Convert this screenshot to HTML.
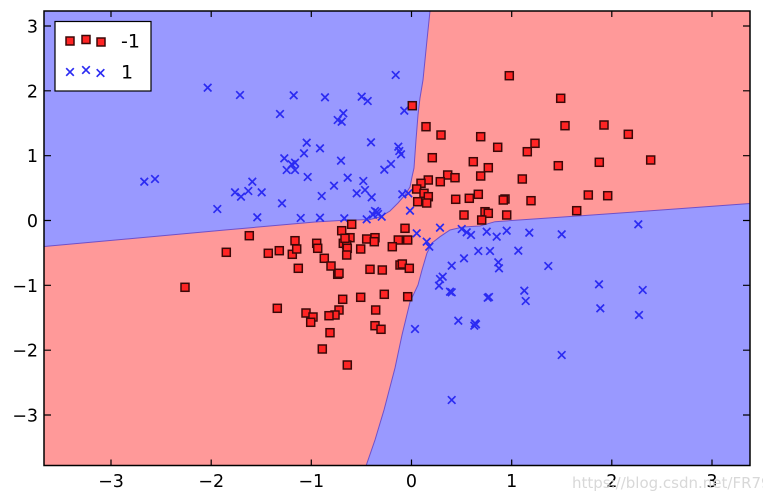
<!DOCTYPE html>
<html><head><meta charset="utf-8"><style>
html,body{margin:0;padding:0;background:#fff;}
svg{display:block;}
text{font-family:"DejaVu Sans","Liberation Sans",sans-serif;}
</style></head><body>
<svg width="763" height="500" viewBox="0 0 763 500" xmlns="http://www.w3.org/2000/svg">
<defs>
<g id="s"><rect x="-4" y="-4" width="8" height="8" fill="#ff2424" stroke="#3a0808" stroke-width="1.5"/></g>
<g id="x"><path d="M-3.8,-3.8L3.8,3.8M-3.8,3.8L3.8,-3.8" stroke="#2b2bf2" stroke-width="1.7" fill="none"/></g>
<clipPath id="c"><rect x="44" y="11" width="706" height="454.5"/></clipPath>
</defs>
<g clip-path="url(#c)">
<rect x="44" y="11" width="706" height="454.5" fill="#ff9999"/>
<path d="M44,11 L430,11 L427,40 L423,80 L420,98 L418,115 L416,140 L414,168 L412,177 L410,187 L405,195 L398,203 L390,211 L380,217 L370,219.5 L340,220.5 L315,222 L225,230 L135,238.3 L44,246.5 Z" fill="#9999ff" stroke="#7050c8" stroke-width="1"/>
<path d="M750,203.5 L675,209 L585,215.5 L495,221.7 L480,226 L463,227 L450,230 L440,236.7 L432,243 L427,253 L422,270 L418,285 L410,302 L402,335 L395,368 L384,410 L375,440 L366,466 L750,466 Z" fill="#9999ff" stroke="#7050c8" stroke-width="1"/>
</g>
<!-- blue x markers -->
<g>
<use href="#x" x="207.7" y="87.7"/><use href="#x" x="240" y="95"/><use href="#x" x="293.7" y="95.3"/><use href="#x" x="280" y="114"/>
<use href="#x" x="306.7" y="142.7"/><use href="#x" x="304" y="153.3"/><use href="#x" x="284.3" y="158.3"/><use href="#x" x="291.7" y="164.3"/>
<use href="#x" x="295" y="162.7"/><use href="#x" x="286.7" y="170"/><use href="#x" x="295" y="170"/><use href="#x" x="307.7" y="177"/>
<use href="#x" x="144.3" y="181.7"/><use href="#x" x="155" y="179"/><use href="#x" x="252.3" y="181.7"/><use href="#x" x="235" y="192.3"/>
<use href="#x" x="241" y="196.7"/><use href="#x" x="248.3" y="191"/><use href="#x" x="261.7" y="192.3"/><use href="#x" x="282" y="203.3"/>
<use href="#x" x="217.3" y="209"/><use href="#x" x="257.3" y="217.3"/><use href="#x" x="300.7" y="218"/>
<use href="#x" x="395.7" y="75"/><use href="#x" x="325" y="97.3"/><use href="#x" x="361.7" y="96.7"/><use href="#x" x="367.7" y="101"/>
<use href="#x" x="404.3" y="110.7"/><use href="#x" x="343.3" y="113.3"/><use href="#x" x="337.7" y="120"/><use href="#x" x="341.7" y="121.7"/>
<use href="#x" x="371" y="142.3"/><use href="#x" x="320" y="148.3"/><use href="#x" x="398.3" y="146.7"/><use href="#x" x="399.3" y="151"/>
<use href="#x" x="401" y="154.3"/><use href="#x" x="341" y="160.7"/><use href="#x" x="391" y="164"/><use href="#x" x="384.3" y="169.7"/>
<use href="#x" x="347.7" y="177.7"/><use href="#x" x="363.3" y="181"/><use href="#x" x="334" y="185.7"/><use href="#x" x="365" y="190"/>
<use href="#x" x="356.7" y="193.3"/><use href="#x" x="371.7" y="197.3"/><use href="#x" x="321.7" y="196"/><use href="#x" x="402.3" y="194.3"/>
<use href="#x" x="408.3" y="193.3"/><use href="#x" x="410" y="210.7"/><use href="#x" x="375" y="211"/><use href="#x" x="378" y="214"/>
<use href="#x" x="373" y="214.7"/><use href="#x" x="381.7" y="216.7"/><use href="#x" x="377" y="212"/><use href="#x" x="366.7" y="219.3"/>
<use href="#x" x="320" y="217.7"/><use href="#x" x="344.3" y="218.3"/><use href="#x" x="440" y="227.7"/><use href="#x" x="461.7" y="229"/>
<use href="#x" x="466.7" y="232.3"/><use href="#x" x="471" y="235"/><use href="#x" x="416.7" y="233.3"/><use href="#x" x="486.7" y="231.7"/>
<use href="#x" x="506.7" y="230.7"/><use href="#x" x="529.3" y="232.7"/><use href="#x" x="561.7" y="234.3"/><use href="#x" x="638.3" y="224.3"/>
<use href="#x" x="496.7" y="236.7"/><use href="#x" x="518.3" y="250.7"/><use href="#x" x="498.3" y="262.3"/><use href="#x" x="499" y="268.3"/>
<use href="#x" x="548.3" y="266"/><use href="#x" x="524.3" y="290.7"/><use href="#x" x="525.7" y="301"/><use href="#x" x="599" y="284.3"/>
<use href="#x" x="642.7" y="290"/><use href="#x" x="600.3" y="308.3"/><use href="#x" x="639" y="315"/><use href="#x" x="561.7" y="355"/>
<use href="#x" x="426.7" y="241.7"/><use href="#x" x="429.3" y="246.7"/><use href="#x" x="478.3" y="251"/><use href="#x" x="490" y="251"/>
<use href="#x" x="464" y="258.3"/><use href="#x" x="451.7" y="265.7"/><use href="#x" x="442.7" y="276.7"/><use href="#x" x="440" y="279"/>
<use href="#x" x="439" y="285.7"/><use href="#x" x="450" y="291.7"/><use href="#x" x="451.7" y="292.3"/><use href="#x" x="487.7" y="297.7"/>
<use href="#x" x="489" y="297"/><use href="#x" x="415" y="329"/><use href="#x" x="458.3" y="320.7"/><use href="#x" x="475" y="323.3"/>
<use href="#x" x="474.3" y="325.7"/><use href="#x" x="476" y="324.3"/><use href="#x" x="451.7" y="400"/>
</g>
<!-- red squares -->
<g>
<use href="#s" x="412.3" y="105.7"/><use href="#s" x="426" y="126.7"/><use href="#s" x="441" y="135"/><use href="#s" x="480.7" y="136.7"/>
<use href="#s" x="497.7" y="147.3"/><use href="#s" x="432.3" y="157.7"/><use href="#s" x="473.3" y="161.7"/><use href="#s" x="488.3" y="167.7"/>
<use href="#s" x="480.7" y="176"/><use href="#s" x="447.7" y="175"/><use href="#s" x="455" y="177.7"/><use href="#s" x="440.3" y="181.7"/>
<use href="#s" x="428.3" y="180"/><use href="#s" x="421" y="183.3"/><use href="#s" x="416.7" y="189"/><use href="#s" x="424" y="193.3"/>
<use href="#s" x="428.3" y="196.7"/><use href="#s" x="417.7" y="201.7"/><use href="#s" x="426.7" y="203"/><use href="#s" x="455.7" y="199.3"/>
<use href="#s" x="469.3" y="198.3"/><use href="#s" x="478.3" y="194.3"/><use href="#s" x="464" y="215"/><use href="#s" x="485" y="211.7"/>
<use href="#s" x="488.3" y="213.3"/><use href="#s" x="481.7" y="220"/><use href="#s" x="509.3" y="75.7"/><use href="#s" x="560.7" y="98.3"/>
<use href="#s" x="565" y="125.7"/><use href="#s" x="604" y="125"/><use href="#s" x="628.3" y="134.3"/><use href="#s" x="535" y="143.3"/>
<use href="#s" x="527.3" y="151.7"/><use href="#s" x="558.3" y="165.7"/><use href="#s" x="599.3" y="162.3"/><use href="#s" x="650.7" y="160"/>
<use href="#s" x="522.3" y="179"/><use href="#s" x="505" y="199"/><use href="#s" x="503.3" y="200"/><use href="#s" x="531" y="200.7"/>
<use href="#s" x="588.3" y="195"/><use href="#s" x="607.7" y="195.7"/><use href="#s" x="576.7" y="210.7"/><use href="#s" x="506.7" y="215"/>
<use href="#s" x="351.7" y="224.3"/><use href="#s" x="341.7" y="230.7"/><use href="#s" x="405" y="228.3"/><use href="#s" x="350" y="237.7"/>
<use href="#s" x="366.7" y="239"/><use href="#s" x="375" y="237.7"/><use href="#s" x="398.3" y="240"/><use href="#s" x="407.7" y="240"/>
<use href="#s" x="249.3" y="235.7"/><use href="#s" x="226.3" y="252.3"/><use href="#s" x="268.3" y="253.3"/><use href="#s" x="279.3" y="250.7"/>
<use href="#s" x="292.3" y="254.3"/><use href="#s" x="295" y="240.7"/><use href="#s" x="296.7" y="249"/><use href="#s" x="298.3" y="268.3"/>
<use href="#s" x="185" y="287.3"/><use href="#s" x="277.3" y="308.3"/><use href="#s" x="306" y="313"/><use href="#s" x="313" y="317"/>
<use href="#s" x="310.7" y="322.3"/><use href="#s" x="316.7" y="243.3"/><use href="#s" x="317.7" y="248.3"/><use href="#s" x="343.3" y="243.3"/>
<use href="#s" x="346.7" y="245"/><use href="#s" x="347.3" y="248.3"/><use href="#s" x="345" y="238.3"/><use href="#s" x="374.3" y="241.7"/>
<use href="#s" x="360.7" y="249"/><use href="#s" x="392.3" y="246.7"/><use href="#s" x="346.7" y="255"/><use href="#s" x="324.3" y="258.3"/>
<use href="#s" x="331" y="266"/><use href="#s" x="337.7" y="274.3"/><use href="#s" x="339" y="273.3"/><use href="#s" x="370" y="269.3"/>
<use href="#s" x="382.3" y="270"/><use href="#s" x="400" y="265"/><use href="#s" x="402.3" y="264"/><use href="#s" x="409.3" y="268.3"/>
<use href="#s" x="342.7" y="299.3"/><use href="#s" x="360.7" y="297.3"/><use href="#s" x="384.3" y="294.3"/><use href="#s" x="407.7" y="296.7"/>
<use href="#s" x="375.7" y="310"/><use href="#s" x="339" y="310"/><use href="#s" x="335" y="315"/><use href="#s" x="329" y="315.7"/>
<use href="#s" x="375" y="325.7"/><use href="#s" x="381" y="329.3"/><use href="#s" x="330" y="332.7"/><use href="#s" x="322.3" y="349"/>
<use href="#s" x="347.3" y="365"/>
</g>
<!-- frame -->
<rect x="44" y="11" width="706" height="454.5" fill="none" stroke="#000" stroke-width="1.5"/>
<!-- ticks -->
<g stroke="#000" stroke-width="1.2">
<path d="M111,11v6M211.2,11v6M311.3,11v6M411.5,11v6M511.7,11v6M611.8,11v6M712,11v6"/>
<path d="M111,465.5v-6M211.2,465.5v-6M311.3,465.5v-6M411.5,465.5v-6M511.7,465.5v-6M611.8,465.5v-6M712,465.5v-6"/>
<path d="M44,26h7M44,90.8h7M44,155.7h7M44,220.5h7M44,285.3h7M44,350.2h7M44,415h7"/>
<path d="M750,26h-7M750,90.8h-7M750,155.7h-7M750,220.5h-7M750,285.3h-7M750,350.2h-7M750,415h-7"/>
</g>
<!-- tick labels -->
<g font-size="17.5" fill="#000">
<g text-anchor="middle">
<text x="111" y="487">−3</text><text x="211.2" y="487">−2</text><text x="311.3" y="487">−1</text><text x="411.5" y="487">0</text>
<text x="511.7" y="487">1</text><text x="611.8" y="487">2</text><text x="712" y="487">3</text>
</g>
<g text-anchor="end">
<text x="38" y="32.5">3</text><text x="38" y="97.3">2</text><text x="38" y="162.2">1</text><text x="38" y="227">0</text>
<text x="38" y="291.8">−1</text><text x="38" y="356.7">−2</text><text x="38" y="421.5">−3</text>
</g>
</g>
<!-- legend -->
<rect x="55" y="21.5" width="96" height="69.5" fill="#fff" stroke="#000" stroke-width="1.2"/>
<use href="#s" x="70" y="41"/><use href="#s" x="86" y="39.5"/><use href="#s" x="101" y="42"/>
<use href="#x" x="70" y="72"/><use href="#x" x="86" y="70"/><use href="#x" x="100.5" y="73"/>
<text x="121" y="47.5" font-size="19" fill="#000">-1</text>
<text x="121" y="78.5" font-size="19" fill="#000">1</text>
<!-- watermark -->
<text x="572" y="488" font-size="15" fill="#d4d4d4" opacity="0.9">https://blog.csdn.net/FR7970</text>
</svg>
</body></html>
